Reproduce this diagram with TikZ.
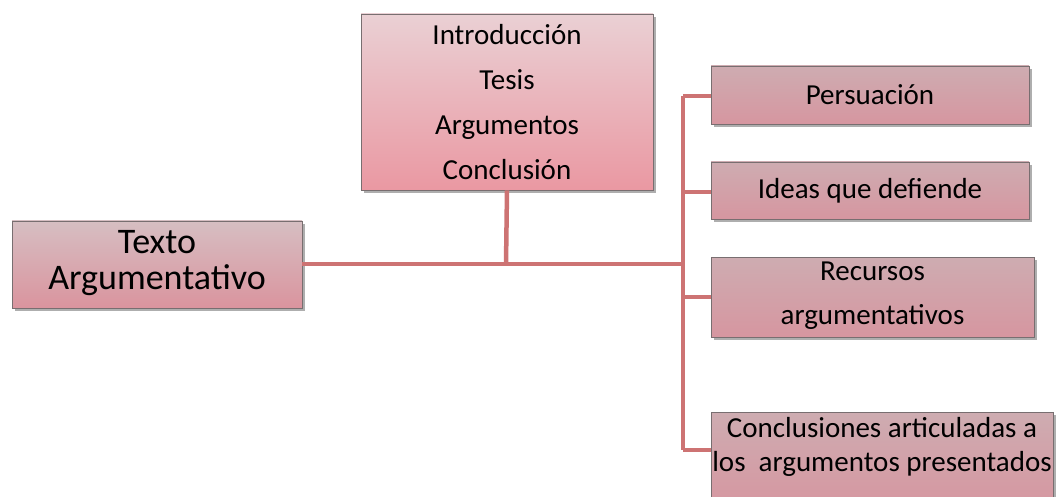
\documentclass[tikz,border=0pt]{standalone}
\usepackage{fontspec}
\setmainfont{Carlito}
\usetikzlibrary{shadows}
\definecolor{linkc}{RGB}{205,115,115}
\definecolor{bordc}{RGB}{120,110,112}
% #1 lines (separated by \cr), #2 strut height, #3 strut depth, #4 baselineskip
\newcommand{\stacklines}[4]{\vtop{\baselineskip=#4\lineskiplimit=-100pt\halign{\hfil##\hfil\cr #1\cr}}\rule[-#3]{0pt}{#2}}
\tikzset{
  box/.style={draw=bordc, line width=0.8pt, inner sep=0pt, align=center,
    drop shadow={shadow xshift=2.5pt, shadow yshift=-3pt, opacity=0.45, fill=black!70}},
  plainbox/.style={draw=bordc, line width=0.8pt, inner sep=0pt,
    drop shadow={shadow xshift=2.5pt, shadow yshift=-3pt, opacity=0.45, fill=black!70}},
  leftcol/.style={top color={rgb,255:red,214;green,190;blue,194}, bottom color={rgb,255:red,218;green,148;blue,158}},
  midcol/.style={top color={rgb,255:red,234;green,208;blue,212}, middle color={rgb,255:red,230;green,180;blue,186}, bottom color={rgb,255:red,234;green,152;blue,162}},
  rightcol/.style={top color={rgb,255:red,206;green,172;blue,177}, bottom color={rgb,255:red,214;green,150;blue,160}},
  link/.style={draw=linkc, line width=4.5pt}
}
\begin{document}
\begin{tikzpicture}[x=1pt,y=-1pt]
\useasboundingbox (0,0) rectangle (1060,497);
% nodes
\node[plainbox, leftcol, minimum width=290pt, minimum height=87pt, font=\fontsize{36}{36}\selectfont] (texto) at (157,264.5) {\stacklines{Texto\cr Argumentativo}{30pt}{45pt}{36pt}};
\node[box, midcol, minimum width=292pt, minimum height=176pt, font=\fontsize{29}{45}\selectfont] (intro) at (507,102) {Introducción\\Tesis\\Argumentos\\Conclusión};
\node[box, rightcol, minimum width=318pt, minimum height=58pt, font=\fontsize{29}{36}\selectfont] (pers) at (870,95) {Persuación};
\node[box, rightcol, minimum width=318pt, minimum height=57pt, font=\fontsize{29}{36}\selectfont] (ideas) at (870,190.5) {Ideas que defiende};
\node[plainbox, rightcol, minimum width=323pt, minimum height=80pt, font=\fontsize{29}{44}\selectfont] (recur) at (872.5,297) {\stacklines{Recursos\cr argumentativos}{23pt}{51pt}{44pt}};
\node[plainbox, rightcol, minimum width=342pt, minimum height=98pt, font=\fontsize{29}{34}\selectfont] (concl) at (882,461) {\stacklines{Conclusiones articuladas a\cr los~ argumentos presentados}{21pt}{67pt}{34pt}};
% connectors
\coordinate (hub) at (683,264);
\coordinate (mid) at (506,264);
\coordinate (pj) at (683,96);
\coordinate (ij) at (683,192);
\coordinate (rj) at (683,297);
\coordinate (cj) at (683,450);
\coordinate (cw) at (711,450);
\path[link] (texto.east |- hub) -- (hub);
\path[link] (intro.south) -- (mid);
\path[link] (pj) -- (cj);
\path[link] (pj) -- (pers.west |- pj);
\path[link] (ij) -- (ideas.west |- ij);
\path[link] (rj) -- (recur.west);
\path[link] (cj) -- (cw);
\end{tikzpicture}
\end{document}
